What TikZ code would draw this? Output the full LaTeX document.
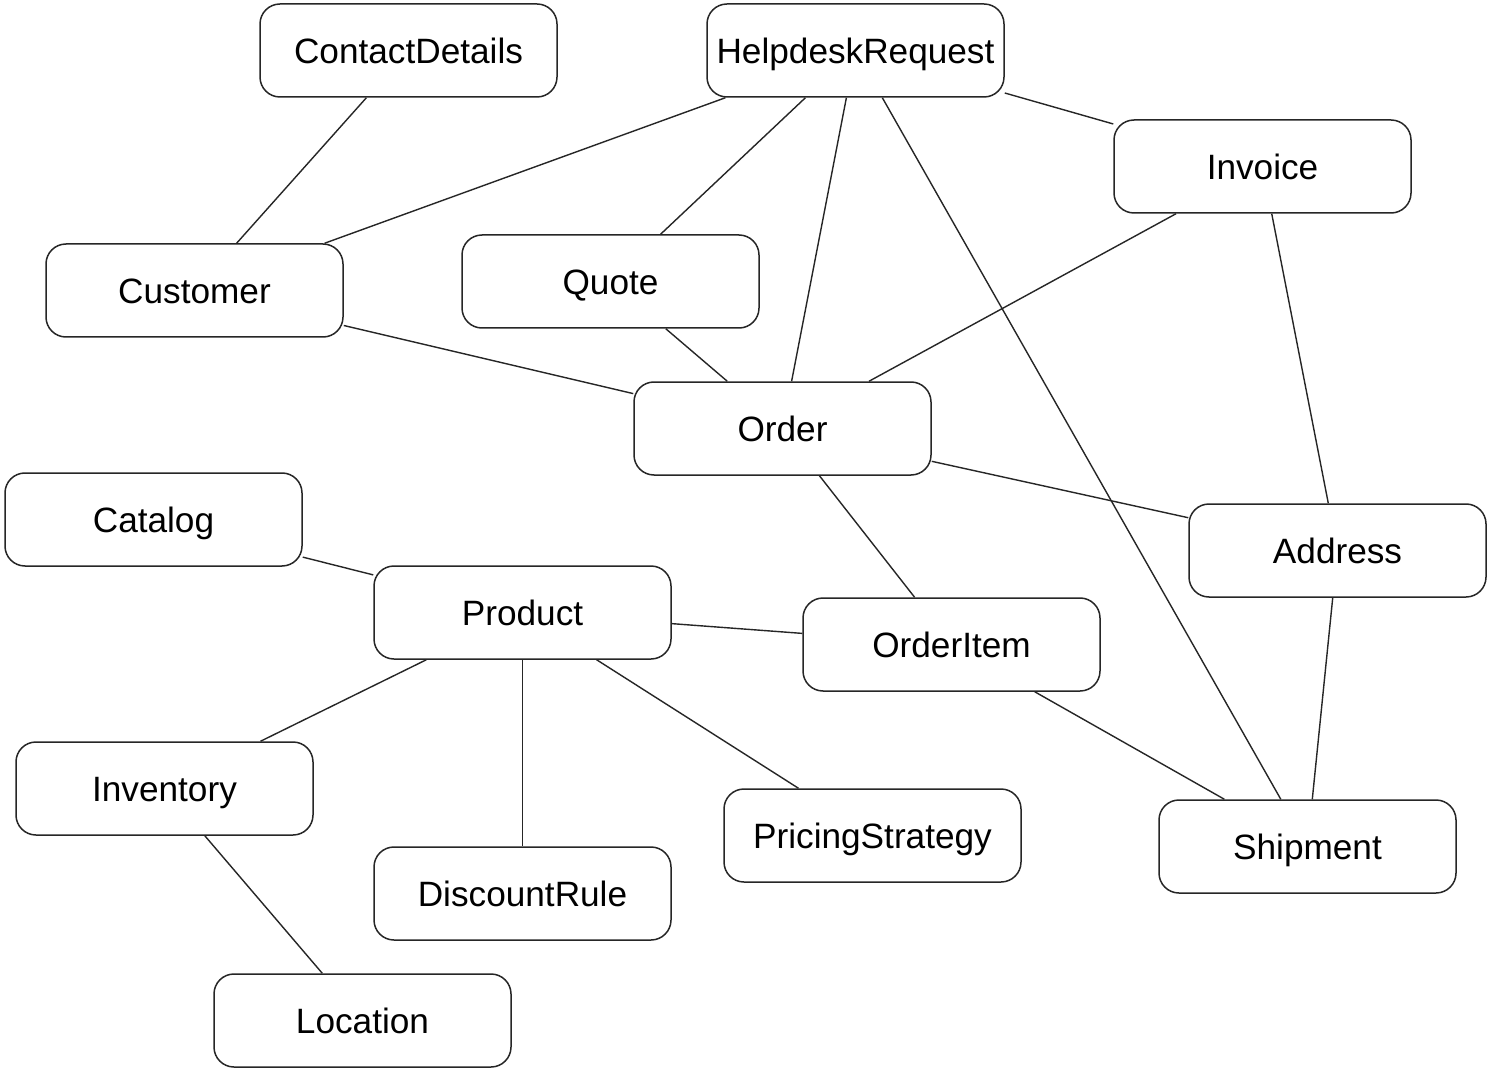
\documentclass[tikz,border=0pt]{standalone}
\usepackage{fontspec}
\setmainfont{Liberation Sans}
\begin{document}
\begin{tikzpicture}[x=0.5pt,y=-0.5pt,
  entity/.style={draw=black!85, line width=0.75pt, rounded corners=10pt, fill=white,
    minimum width=148.5pt, minimum height=46.5pt, inner sep=0pt,
    text height=12.6pt, text depth=0pt,
    font=\fontsize{17.6}{20}\selectfont},
  link/.style={draw=black!85, line width=0.7pt}]
\useasboundingbox (0,0) rectangle (1487,1069);
\fill[white] (0,0) rectangle (1487,1069);

% entities
\node[entity] (contact)   at (408.5,50.5)  {ContactDetails};
\node[entity] (helpdesk)  at (855.5,50.5)  {HelpdeskRequest};
\node[entity] (invoice)   at (1262.5,166.5) {Invoice};
\node[entity] (customer)  at (194.5,290.5) {Customer};
\node[entity] (quote)     at (610.5,281.5) {Quote};
\node[entity] (order)     at (782.5,428.5) {Order};
\node[entity] (catalog)   at (153.5,519.5) {Catalog};
\node[entity] (address)   at (1337.5,550.5) {Address};
\node[entity] (product)   at (522.5,612.5) {Product};
\node[entity] (orderitem) at (951.5,644.5) {OrderItem};
\node[entity] (inventory) at (164.5,788.5) {Inventory};
\node[entity] (pricing)   at (872.5,835.5) {PricingStrategy};
\node[entity] (shipment)  at (1307.5,846.5) {Shipment};
\node[entity] (discount)  at (522.5,893.5) {DiscountRule};
\node[entity] (location)  at (362.5,1020.5) {Location};

% associations
\draw[link] (contact) -- (customer);
\draw[link] (helpdesk) -- (customer);
\draw[link] (helpdesk) -- (quote);
\draw[link] (helpdesk) -- (order);
\draw[link] (helpdesk) -- (shipment);
\draw[link] (helpdesk) -- (invoice);
\draw[link] (invoice) -- (order);
\draw[link] (invoice) -- (address);
\draw[link] (customer) -- (order);
\draw[link] (quote) -- (order);
\draw[link] (order) -- (address);
\draw[link] (order) -- (orderitem);
\draw[link] (catalog) -- (product);
\draw[link] (product) -- (orderitem);
\draw[link] (product) -- (inventory);
\draw[link] (product) -- (discount);
\draw[link] (product) -- (pricing);
\draw[link] (inventory) -- (location);
\draw[link] (orderitem) -- (shipment);
\draw[link] (address) -- (shipment);
\end{tikzpicture}
\end{document}
